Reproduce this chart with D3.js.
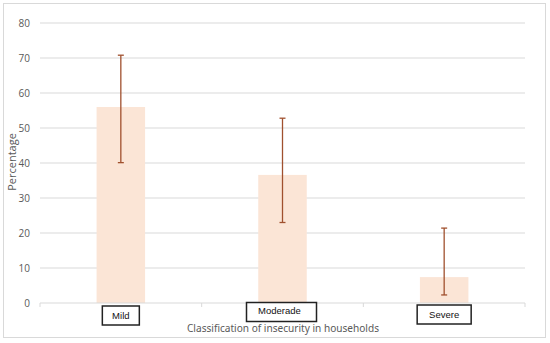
<!DOCTYPE html>
<html>
<head>
<meta charset="utf-8">
<script src="https://cdn.jsdelivr.net/npm/d3@7"></script>
<style>
  body { margin: 0; background: #fff; }
  svg { display: block; }
</style>
</head>
<body>
<div id="chart"></div>
<script>
// data
const categories = ["Mild", "Moderade", "Severe"];
const values = [56, 36.6, 7.4];
const errLow = [40.1, 23.0, 2.3];
const errHigh = [70.8, 52.8, 21.4];
const yTicks = [0, 10, 20, 30, 40, 50, 60, 70, 80];

const width = 550, height = 343;
const margin = { top: 23, right: 25, bottom: 40, left: 40 };

const svg = d3.select("#chart")
    .append("svg")
    .attr("width", width)
    .attr("height", height);

// outer frame
svg.append("rect")
    .attr("x", 3.5).attr("y", 3.5)
    .attr("width", 542).attr("height", 334)
    .attr("fill", "#fff")
    .attr("stroke", "#d9d9d9");

const x = d3.scaleBand()
    .domain(categories)
    .range([margin.left, width - margin.right])
    .paddingInner(0.7)
    .paddingOuter(0.35);

const xOuter = d3.scaleBand()
    .domain(categories)
    .range([margin.left, width - margin.right]);

const y = d3.scaleLinear()
    .domain([0, 80])
    .range([303, margin.top]);

// gridlines
svg.append("g")
    .selectAll("line")
    .data(yTicks.filter(d => d > 0))
    .enter().append("line")
    .attr("x1", margin.left).attr("x2", width - margin.right)
    .attr("y1", d => y(d)).attr("y2", d => y(d))
    .attr("stroke", "#d9d9d9")
    .attr("stroke-width", 1);

// y tick labels
svg.append("g")
    .selectAll("text")
    .data(yTicks)
    .enter().append("text")
    .attr("x", 30)
    .attr("y", d => y(d) + 3.5)
    .attr("text-anchor", "end")
    .attr("font-family", "Open Sans, sans-serif")
    .attr("font-size", 10)
    .attr("fill", "#595959")
    .text(d => d);

// bars
svg.append("g")
    .selectAll("rect")
    .data(categories)
    .enter().append("rect")
    .attr("x", d => x(d))
    .attr("y", (d, i) => y(values[i]))
    .attr("width", x.bandwidth())
    .attr("height", (d, i) => y(0) - y(values[i]))
    .attr("fill", "#fbe5d6");

// x axis line + ticks at band edges
svg.append("line")
    .attr("x1", margin.left).attr("x2", width - margin.right)
    .attr("y1", y(0)).attr("y2", y(0))
    .attr("stroke", "#d9d9d9");

svg.append("g")
    .selectAll("line")
    .data(categories.concat(["end"]))
    .enter().append("line")
    .attr("x1", (d, i) => i < categories.length ? xOuter(d) : width - margin.right)
    .attr("x2", (d, i) => i < categories.length ? xOuter(d) : width - margin.right)
    .attr("y1", y(0)).attr("y2", y(0) + 4)
    .attr("stroke", "#d9d9d9");

// error bars
const err = svg.append("g")
    .attr("stroke", "#a0502e")
    .attr("stroke-width", 1.3);

categories.forEach((c, i) => {
    const cx = x(c) + x.bandwidth() / 2;
    err.append("line")
        .attr("x1", cx).attr("x2", cx)
        .attr("y1", y(errHigh[i])).attr("y2", y(errLow[i]));
    [errHigh[i], errLow[i]].forEach(v => {
        err.append("line")
            .attr("x1", cx - 3).attr("x2", cx + 3)
            .attr("y1", y(v)).attr("y2", y(v));
    });
});

// boxed category labels
const boxW = [37, 70, 54];
const boxY = [306, 302.5, 305];
const labels = svg.append("g");
categories.forEach((c, i) => {
    const cx = x(c) + x.bandwidth() / 2;
    labels.append("rect")
        .attr("x", cx - boxW[i] / 2 - (i === 1 ? 1 : 0))
        .attr("y", boxY[i])
        .attr("width", boxW[i])
        .attr("height", 19)
        .attr("fill", "#fff")
        .attr("stroke", "#222")
        .attr("stroke-width", 1.5);
    labels.append("text")
        .attr("x", cx - (i === 1 ? 3 : 0))
        .attr("y", boxY[i] + (i === 1 ? 11 : 13))
        .attr("text-anchor", "middle")
        .attr("font-family", "Liberation Sans, Arial, sans-serif")
        .attr("font-size", 9.5)
        .attr("fill", "#111")
        .text(c);
});

// axis titles
svg.append("text")
    .attr("x", 283)
    .attr("y", 332)
    .attr("text-anchor", "middle")
    .attr("font-family", "Noto Sans, sans-serif")
    .attr("font-size", 10.5)
    .attr("textLength", 192)
    .attr("lengthAdjust", "spacingAndGlyphs")
    .attr("fill", "#595959")
    .text("Classification of insecurity in households");

svg.append("text")
    .attr("transform", "translate(16,162) rotate(-90)")
    .attr("text-anchor", "middle")
    .attr("font-family", "Open Sans, sans-serif")
    .attr("font-size", 11)
    .attr("fill", "#595959")
    .text("Percentage");
</script>
</body>
</html>
